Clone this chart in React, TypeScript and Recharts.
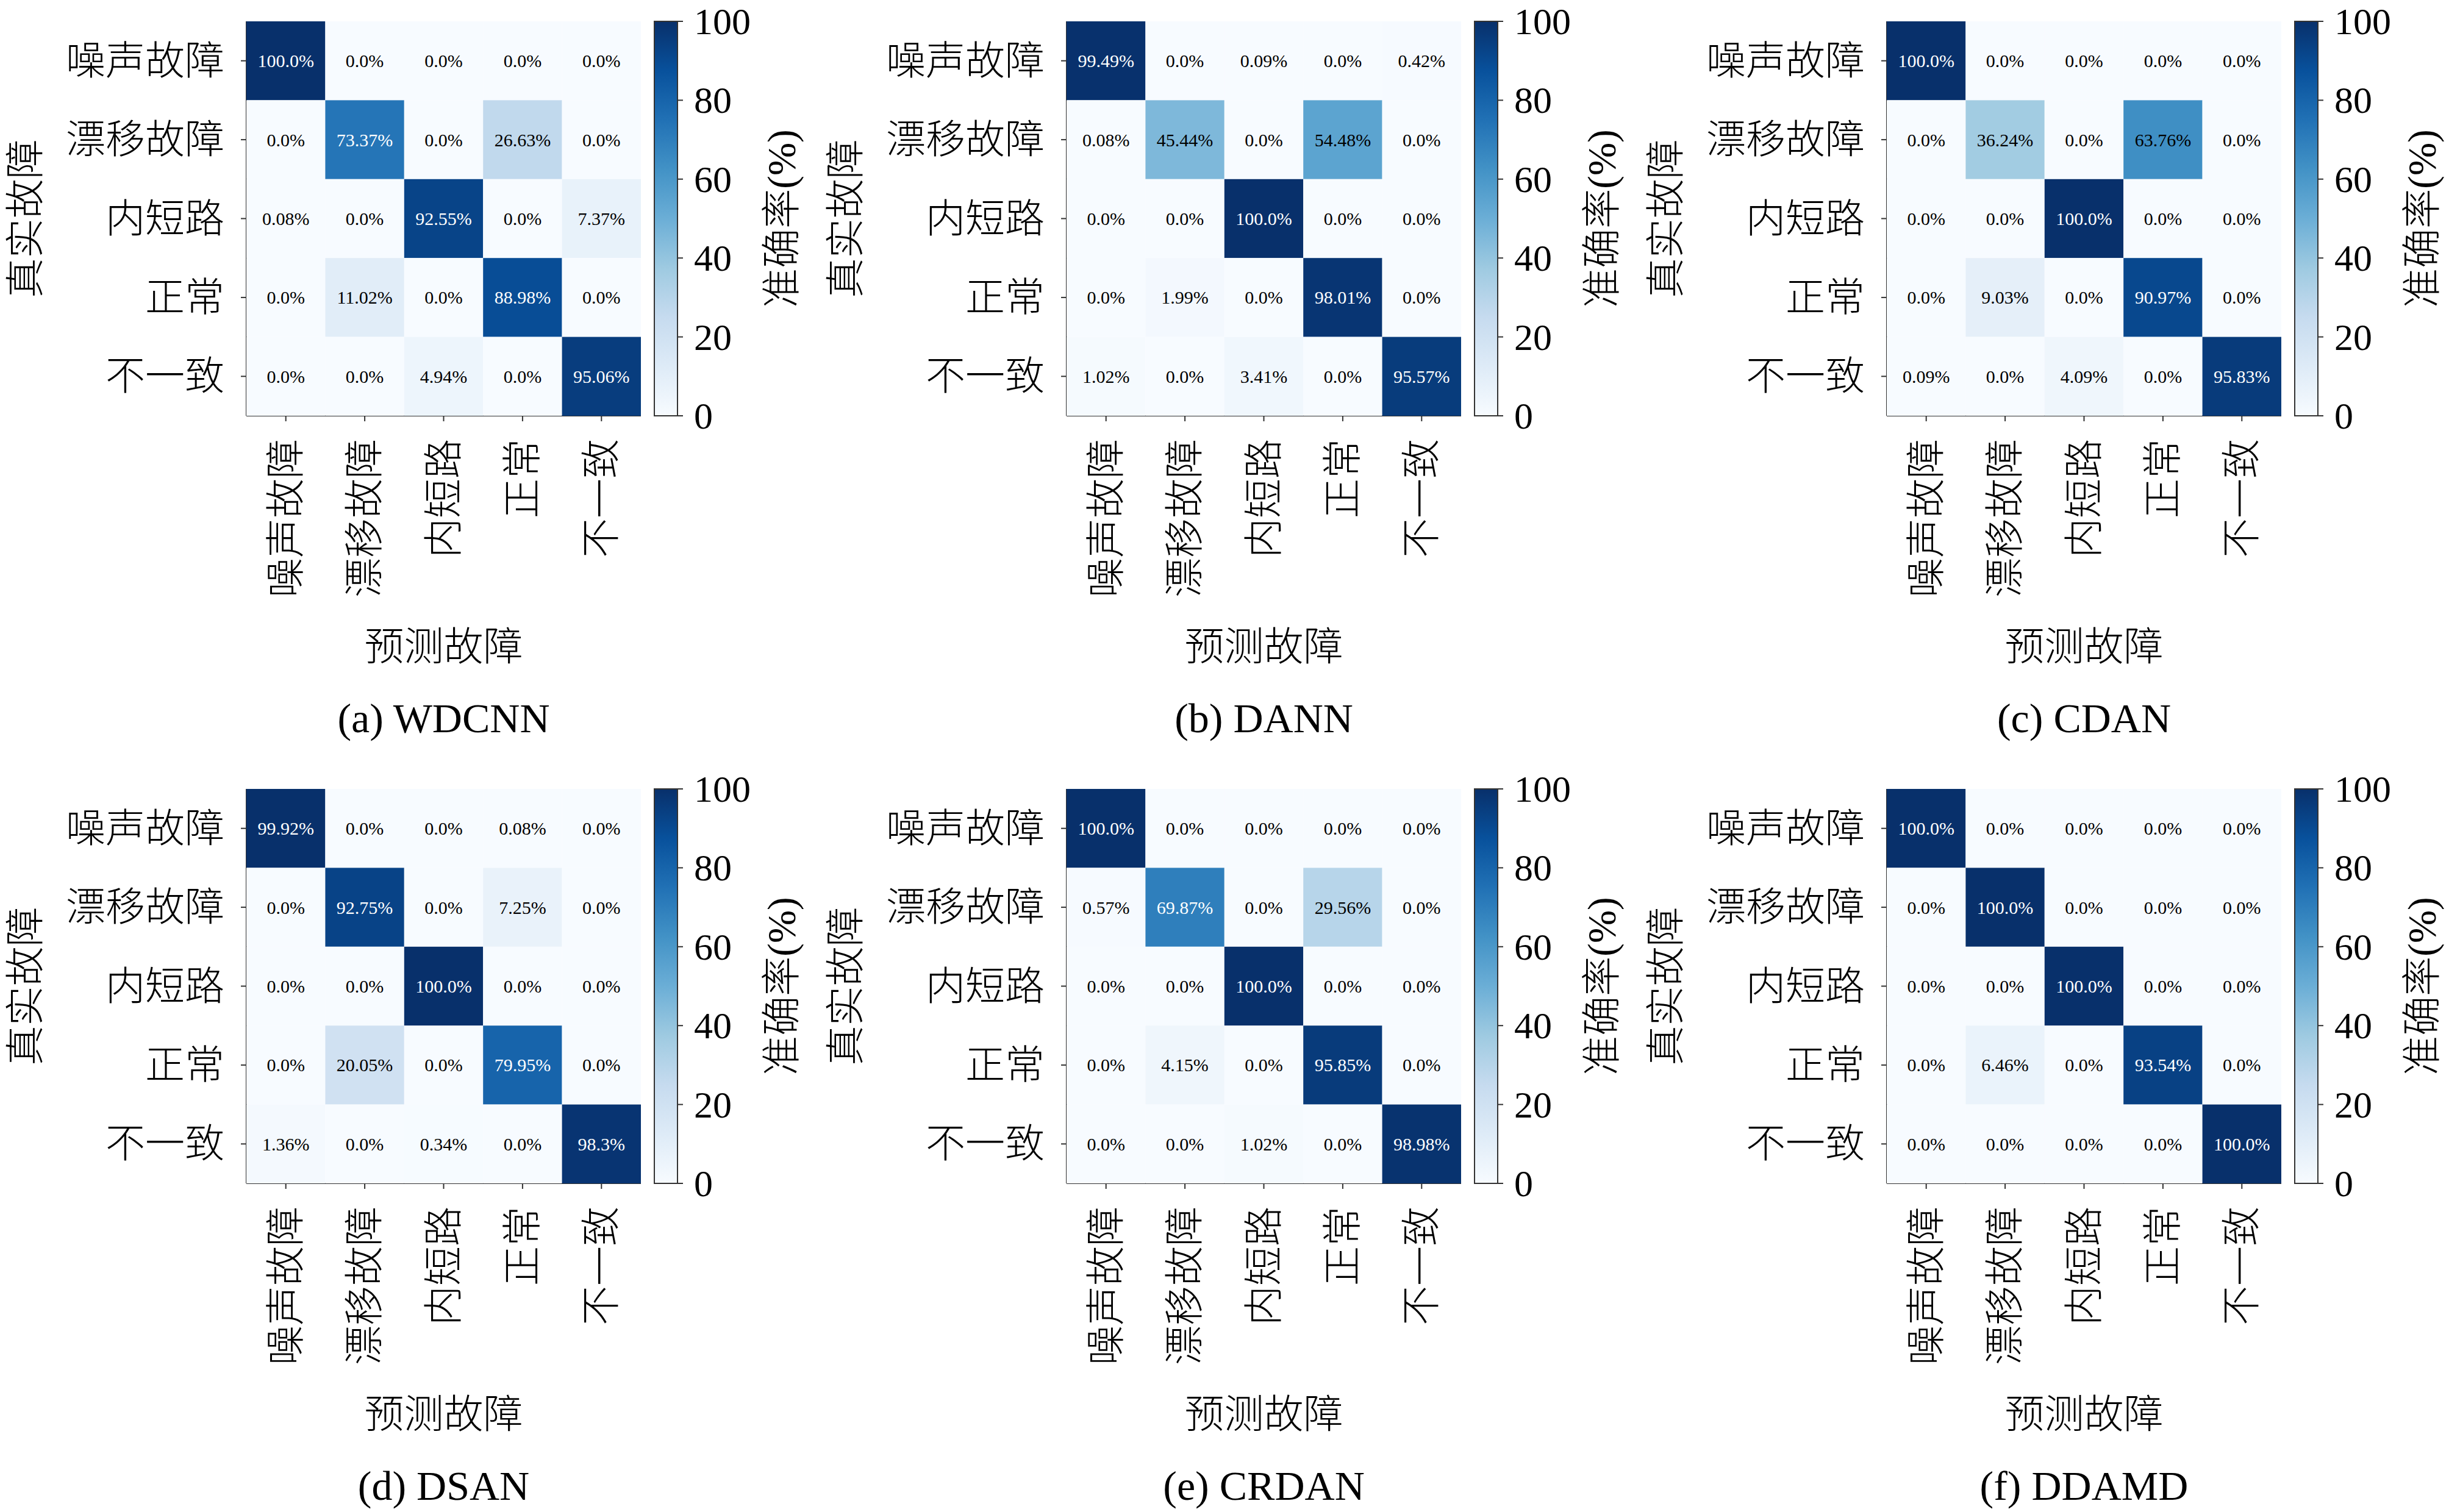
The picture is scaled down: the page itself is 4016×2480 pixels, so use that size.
import React from 'react';
import { ScatterChart, Scatter, XAxis, YAxis, ComposedChart, Bar, Label } from 'recharts';

// class names (rows = true fault, columns = predicted fault)
const labels = ['噪声故障', '漂移故障', '内短路', '正常', '不一致'];

// confusion matrices, % per row
const wdcnn = [
  [100, 0, 0, 0, 0],
  [0, 73.37, 0, 26.63, 0],
  [0.08, 0, 92.55, 0, 7.37],
  [0, 11.02, 0, 88.98, 0],
  [0, 0, 4.94, 0, 95.06],
];
const dann = [
  [99.49, 0, 0.09, 0, 0.42],
  [0.08, 45.44, 0, 54.48, 0],
  [0, 0, 100, 0, 0],
  [0, 1.99, 0, 98.01, 0],
  [1.02, 0, 3.41, 0, 95.57],
];
const cdan = [
  [100, 0, 0, 0, 0],
  [0, 36.24, 0, 63.76, 0],
  [0, 0, 100, 0, 0],
  [0, 9.03, 0, 90.97, 0],
  [0.09, 0, 4.09, 0, 95.83],
];
const dsan = [
  [99.92, 0, 0, 0.08, 0],
  [0, 92.75, 0, 7.25, 0],
  [0, 0, 100, 0, 0],
  [0, 20.05, 0, 79.95, 0],
  [1.36, 0, 0.34, 0, 98.3],
];
const crdan = [
  [100, 0, 0, 0, 0],
  [0.57, 69.87, 0, 29.56, 0],
  [0, 0, 100, 0, 0],
  [0, 4.15, 0, 95.85, 0],
  [0, 0, 1.02, 0, 98.98],
];
const ddamd = [
  [100, 0, 0, 0, 0],
  [0, 100, 0, 0, 0],
  [0, 0, 100, 0, 0],
  [0, 6.46, 0, 93.54, 0],
  [0, 0, 0, 0, 100],
];

const captions = ['(a) WDCNN', '(b) DANN', '(c) CDAN', '(d) DSAN', '(e) CRDAN', '(f) DDAMD'];
const matrices = [wdcnn, dann, cdan, dsan, crdan, ddamd];
const cbTicks = [0, 20, 40, 60, 80, 100];

// matplotlib "Blues"
const BLUES = ['#f7fbff', '#deebf7', '#c6dbef', '#9ecae1', '#6baed6', '#4292c6', '#2171b5', '#08519c', '#08306b'];

const FONT = "'Liberation Serif', 'Noto Sans CJK SC', serif";
const PLOT = 647;
const CELL = PLOT / 5;
const CB_PAD = 45;

const hex = (h: string) => [1, 3, 5].map(i => parseInt(h.slice(i, i + 2), 16));

const blues = (v: number) => {
  const t = Math.max(0, Math.min(1, v / 100)) * 8;
  const i = Math.min(7, Math.floor(t));
  const f = t - i;
  const a = hex(BLUES[i]);
  const b = hex(BLUES[i + 1]);
  const c = a.map((x, k) => Math.round(x + (b[k] - x) * f));
  return `rgb(${c[0]},${c[1]},${c[2]})`;
};

const fmt = (v: number) => (Number.isInteger(v) ? v.toFixed(1) : String(v)) + '%';

const renderCell = (props: any) => {
  const { cx, cy, payload } = props;
  return (
    <g>
      <rect x={cx - CELL / 2} y={cy - CELL / 2} width={CELL} height={CELL} fill={blues(payload.v)} />
      <text
        x={cx}
        y={cy}
        textAnchor="middle"
        dominantBaseline="central"
        fontSize={30}
        fontFamily={FONT}
        fill={payload.v > 100 / 1.5 ? '#fff' : '#000'}
      >
        {fmt(payload.v)}
      </text>
    </g>
  );
};

const renderXTick = (p: any) => (
  <text
    x={p.x}
    y={p.y}
    transform={`rotate(-90 ${p.x} ${p.y})`}
    textAnchor="end"
    dominantBaseline="central"
    fontSize={65}
    fontFamily={FONT}
    fontWeight={300}
    fill="#000"
  >
    {labels[p.payload.value]}
  </text>
);

const renderYTick = (p: any) => (
  <text x={p.x} y={p.y} textAnchor="end" dominantBaseline="central" fontSize={65} fontFamily={FONT} fontWeight={300} fill="#000">
    {labels[p.payload.value]}
  </text>
);

const renderCbTick = (p: any) => (
  <text x={p.x} y={p.y} textAnchor="start" dominantBaseline="central" fontSize={62} fontFamily={FONT} fill="#000">
    {p.payload.value}
  </text>
);

const rotatedTitle = (x: number, y: number, value: string) => (
  <text
    x={x}
    y={y}
    transform={`rotate(-90 ${x} ${y})`}
    textAnchor="middle"
    dominantBaseline="central"
    fontSize={65}
    fontFamily={FONT}
    fontWeight={300}
    fill="#000"
  >
    {value}
  </text>
);

const Panel = ({ idx }: { idx: number }) => {
  const col = idx % 3;
  const row = Math.floor(idx / 3);
  const mx = 404 + 1345 * col;
  const mt = 35 + 1259 * row;
  const cells = matrices[idx].flatMap((r, i) => r.map((v, j) => ({ x: j, y: i, v })));
  const gid = `blues-${idx}`;

  return (
    <>
      <div style={{ position: 'absolute', left: mx - 400, top: mt - 4 }}>
        <ScatterChart width={400 + PLOT + 4} height={4 + PLOT + 420} margin={{ top: 4, right: 4, bottom: 0, left: 0 }}>
          <XAxis
            xAxisId="b"
            type="number"
            dataKey="x"
            domain={[-0.5, 4.5]}
            ticks={[0, 1, 2, 3, 4]}
            interval={0}
            allowDataOverflow
            height={420}
            tickSize={9}
            tickMargin={29}
            tick={renderXTick}
            stroke="#333"
            strokeWidth={2}
          >
            <Label
              content={(lp: any) => {
                const vb = lp.viewBox || { x: 400, y: PLOT + 4, width: PLOT, height: 420 };
                return (
                  <text
                    x={vb.x + vb.width / 2}
                    y={vb.y + 379}
                    textAnchor="middle"
                    dominantBaseline="central"
                    fontSize={65}
                    fontFamily={FONT}
                    fontWeight={300}
                    fill="#000"
                  >
                    预测故障
                  </text>
                );
              }}
            />
          </XAxis>
          <XAxis xAxisId="t" orientation="top" type="number" domain={[-0.5, 4.5]} allowDataOverflow height={0} tick={false} tickLine={false} stroke="#333" strokeWidth={2} />
          <YAxis
            yAxisId="l"
            type="number"
            dataKey="y"
            domain={[-0.5, 4.5]}
            ticks={[0, 1, 2, 3, 4]}
            interval={0}
            reversed
            allowDataOverflow
            width={400}
            tickSize={9}
            tickMargin={27}
            tick={renderYTick}
            stroke="#333"
            strokeWidth={2}
          >
            <Label
              content={(lp: any) => {
                const vb = lp.viewBox || { x: 0, y: 4, width: 400, height: PLOT };
                return rotatedTitle(vb.x + 38, vb.y + vb.height / 2, '真实故障');
              }}
            />
          </YAxis>
          <YAxis yAxisId="r" orientation="right" type="number" domain={[-0.5, 4.5]} allowDataOverflow width={0} tick={false} tickLine={false} stroke="#333" strokeWidth={2} />
          <Scatter xAxisId="b" yAxisId="l" data={cells} shape={renderCell} isAnimationActive={false} />
        </ScatterChart>
      </div>

      <div style={{ position: 'absolute', left: mx + 669 - 2, top: mt - CB_PAD }}>
        <ComposedChart
          width={300}
          height={PLOT + 2 * CB_PAD}
          data={[{ k: 'cb', v: 100 }]}
          margin={{ top: CB_PAD, right: 0, bottom: CB_PAD, left: 2 }}
          barCategoryGap={0}
        >
          <defs>
            <linearGradient id={gid} x1="0" y1="1" x2="0" y2="0">
              {BLUES.map((c, i) => (
                <stop key={i} offset={i / 8} stopColor={c} />
              ))}
            </linearGradient>
          </defs>
          <XAxis dataKey="k" hide />
          <YAxis
            orientation="right"
            type="number"
            domain={[0, 100]}
            ticks={cbTicks}
            interval={0}
            width={260}
            tickSize={9}
            tickMargin={18}
            tick={renderCbTick}
            axisLine={false}
            stroke="#333"
            strokeWidth={2}
          >
            <Label
              content={(lp: any) => {
                const vb = lp.viewBox || { x: 40, y: CB_PAD, width: 260, height: PLOT };
                return rotatedTitle(vb.x + 171, vb.y + vb.height / 2, '准确率(%)');
              }}
            />
          </YAxis>
          <Bar dataKey="v" fill={`url(#${gid})`} stroke="#333" strokeWidth={2} isAnimationActive={false} />
        </ComposedChart>
      </div>

      <div
        style={{
          position: 'absolute',
          left: mx,
          width: PLOT,
          top: 1178 + 1259 * row - 45,
          height: 90,
          lineHeight: '90px',
          textAlign: 'center',
          fontSize: 68,
          fontFamily: FONT,
          color: '#000',
          whiteSpace: 'nowrap',
        }}
      >
        {captions[idx]}
      </div>
    </>
  );
};

export default function App() {
  return (
    <div style={{ position: 'absolute', left: 0, top: 0, width: 4016, height: 2480, background: '#fff' }}>
      {matrices.map((_, i) => (
        <Panel key={i} idx={i} />
      ))}
    </div>
  );
}
